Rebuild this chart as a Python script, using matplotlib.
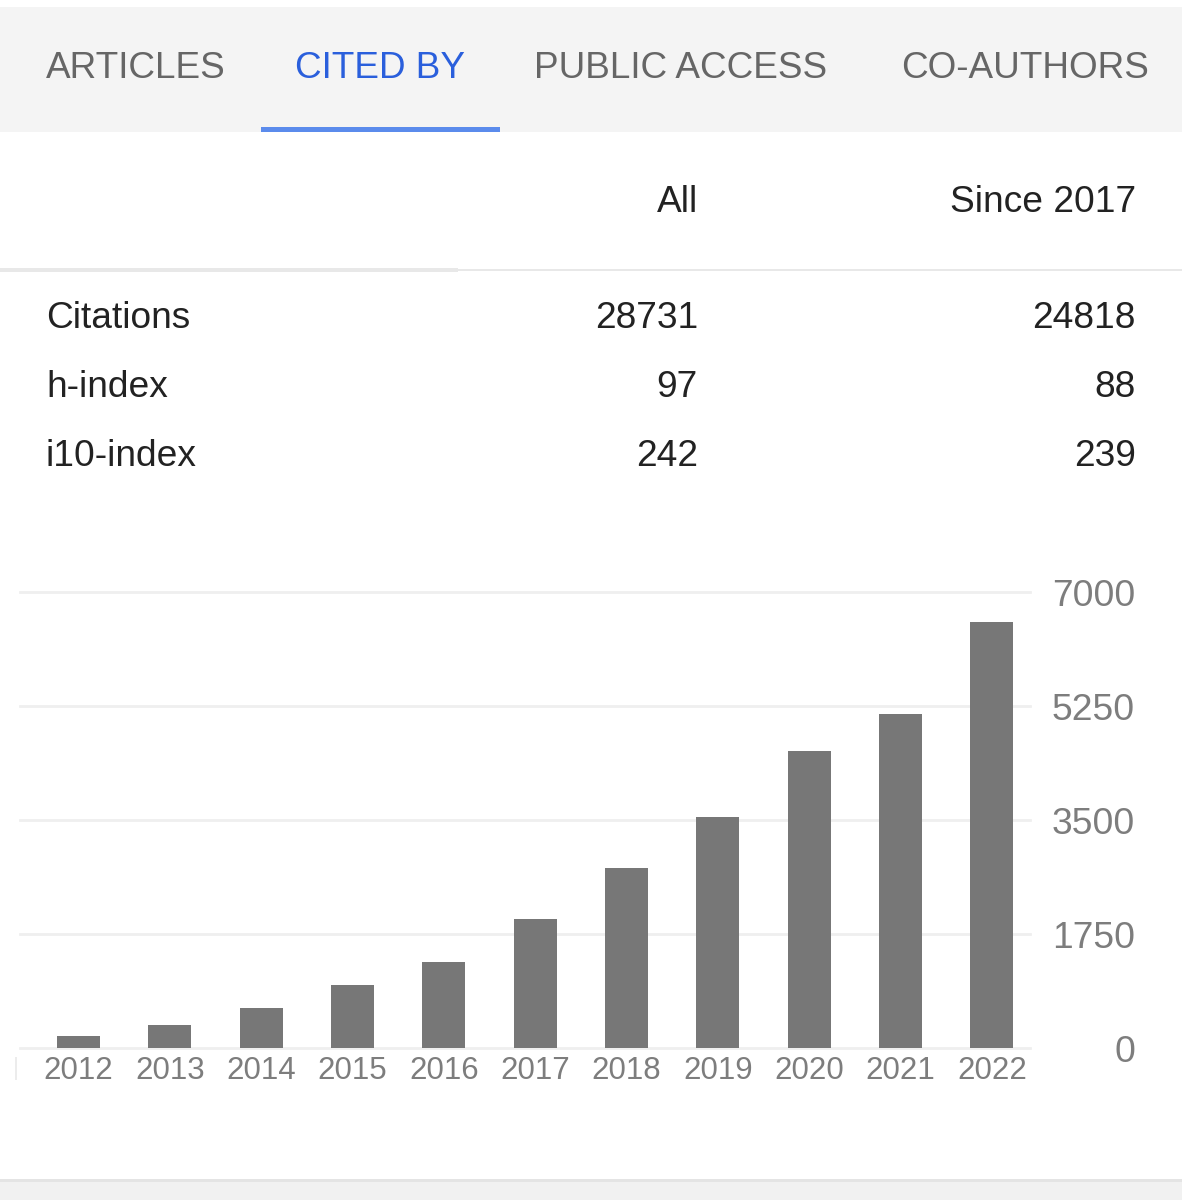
#!/usr/bin/env python3
"""Scholar profile card: citation table and bars per year."""

import matplotlib
matplotlib.use("Agg")
import matplotlib.pyplot as plt
from matplotlib.patches import Rectangle

years = [2012, 2013, 2014, 2015, 2016, 2017, 2018, 2019, 2020, 2021, 2022]
citations = [184, 353, 614, 967, 1320, 1980, 2763, 3546, 4559, 5127, 6539]
y_ticks = [0, 1750, 3500, 5250, 7000]

tabs = ["ARTICLES", "CITED BY", "PUBLIC ACCESS", "CO-AUTHORS"]
columns = ["All", "Since 2017"]
rows = ["Citations", "h-index", "i10-index"]
values_all = ["28731", "97", "242"]
values_since = ["24818", "88", "239"]

W, H = 1182, 1200
TAB_GREY = "#666666"
BLUE = "#2a5fdc"
TEXT = "#222222"
AXIS_GREY = "#7d7d7d"

plt.rcParams["font.family"] = ["Liberation Sans", "DejaVu Sans"]

fig = plt.figure(figsize=(W / 100, H / 100), dpi=100, facecolor="white")

# page furniture, in pixel coordinates
ui = fig.add_axes([0, 0, 1, 1])
ui.set_xlim(0, W)
ui.set_ylim(H, 0)
ui.axis("off")

ui.add_patch(Rectangle((0, 7), W, 125, color="#f4f4f4", lw=0))
ui.add_patch(Rectangle((261, 127), 239, 5, color="#5b8bec", lw=0))
ui.add_patch(Rectangle((0, 269), W, 2, color="#e8e8e8", lw=0))
ui.add_patch(Rectangle((0, 268), 458, 3.5, color="#e8e8e8", lw=0))
ui.add_patch(Rectangle((0, 1179), W, 3, color="#e4e4e4", lw=0))
ui.add_patch(Rectangle((0, 1182), W, 18, color="#f1f1f1", lw=0))
ui.add_patch(Rectangle((15, 1057), 2, 23, color="#ececec", lw=0))

for name, x in zip(tabs, [46, 295, 534, 901]):
    ui.text(x, 64.5, name, fontsize=26.6, va="center_baseline", ha="left",
            color=BLUE if name == "CITED BY" else TAB_GREY)

for name, x in zip(columns, [698, 1136]):
    ui.text(x, 198.5, name, fontsize=26.7, va="center_baseline", ha="right", color=TEXT)

for name, a, b, y in zip(rows, values_all, values_since, [315, 383.5, 452]):
    ui.text(46, y, name, fontsize=26.7, va="center_baseline", ha="left", color=TEXT)
    ui.text(698, y, a, fontsize=26.7, va="center_baseline", ha="right", color=TEXT)
    ui.text(1136, y, b, fontsize=26.7, va="center_baseline", ha="right", color=TEXT)

# bar chart: axes span x 20..1030 px, y 592..1048 px
ax = fig.add_axes([20 / W, 1 - 1048 / H, 1010 / W, 456 / H])
ax.patch.set_alpha(0)
step = 91.35
ax.set_xlim(years[0] - (78.5 - 20) / step, years[0] + (1030 - 78.5) / step)
ax.set_ylim(0, 7000)
ax.bar(years, citations, width=43 / step, color="#777777", zorder=3)

ax.set_yticks(y_ticks)
ax.set_xticks(years)
ax.yaxis.tick_right()
ax.grid(axis="y", color="#efefef", lw=2.0, zorder=0)
ax.set_axisbelow(True)
# right edge of the y labels sits at 1135 px
ax.tick_params(axis="y", length=0, pad=105 * 0.72, labelsize=26.8, labelcolor=AXIS_GREY)
ax.tick_params(axis="x", length=0, pad=6, labelsize=22.5, labelcolor=AXIS_GREY)
for label in ax.get_yticklabels():
    label.set_ha("right")
for spine in ax.spines.values():
    spine.set_visible(False)
for gl in ax.get_ygridlines():
    gl.set_clip_on(False)

fig.savefig("out.png", dpi=100)
